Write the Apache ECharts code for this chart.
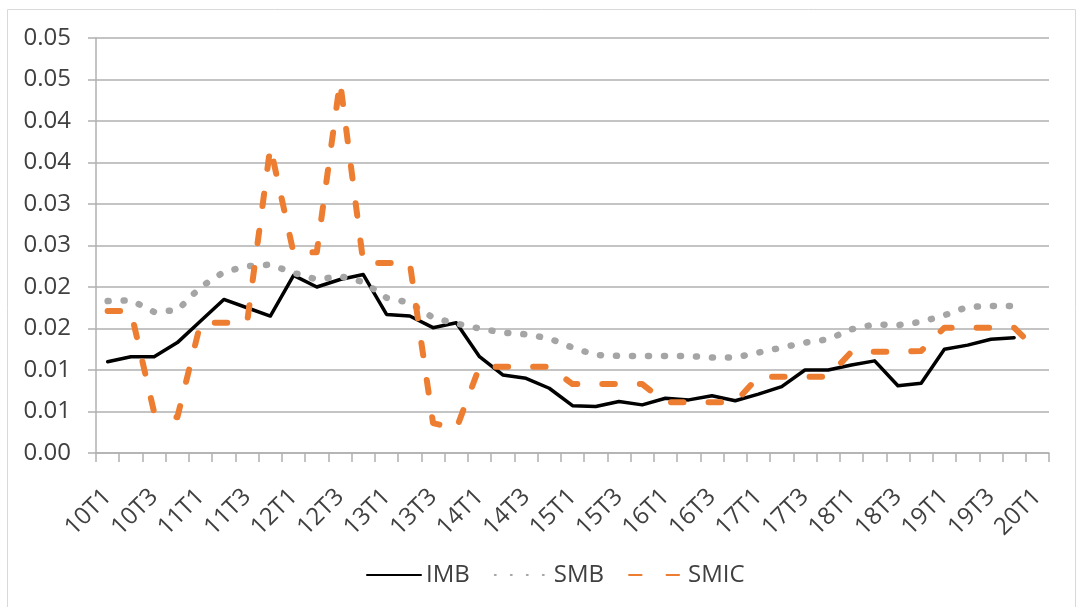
<!DOCTYPE html>
<html>
<head>
<meta charset="utf-8">
<title>IMB SMB SMIC</title>
<script src="https://cdn.jsdelivr.net/npm/echarts@6/dist/echarts.min.js"></script>
<style>
  html, body { margin: 0; padding: 0; background: #fff; }
  #chart { width: 1077px; height: 607px; }
</style>
</head>
<body>
<div id="chart"></div>
<script>
const categories = [
  '10T1', '10T2', '10T3', '10T4', '11T1', '11T2', '11T3', '11T4',
  '12T1', '12T2', '12T3', '12T4', '13T1', '13T2', '13T3', '13T4',
  '14T1', '14T2', '14T3', '14T4', '15T1', '15T2', '15T3', '15T4',
  '16T1', '16T2', '16T3', '16T4', '17T1', '17T2', '17T3', '17T4',
  '18T1', '18T2', '18T3', '18T4', '19T1', '19T2', '19T3', '19T4',
  '20T1'
]

const imb = [
  0.0110, 0.0116, 0.0116, 0.0133, 0.0159, 0.0185, 0.0175, 0.0165,
  0.0214, 0.0200, 0.0209, 0.0215, 0.0167, 0.0165, 0.0151, 0.0157,
  0.0116, 0.0094, 0.0090, 0.0078, 0.0057, 0.0056, 0.0062, 0.0058,
  0.0066, 0.0064, 0.0069, 0.0063, 0.0071, 0.0080, 0.0100, 0.0100,
  0.0106, 0.0111, 0.0081, 0.0084, 0.0125, 0.0130, 0.0137, 0.0139,
  null
]

const smb = [
  0.0183, 0.0184, 0.0170, 0.0172, 0.0200, 0.0218, 0.0225, 0.0227,
  0.0217, 0.0209, 0.0213, 0.0206, 0.0187, 0.0181, 0.0163, 0.0156,
  0.0150, 0.0145, 0.0143, 0.0138, 0.0127, 0.0118, 0.0117, 0.0117,
  0.0117, 0.0117, 0.0115, 0.0115, 0.0121, 0.0127, 0.0133, 0.0137,
  0.0149, 0.0155, 0.0154, 0.0158, 0.0166, 0.0176, 0.0177, 0.0177,
  null
]

const smic = [
  0.0171, 0.0171, 0.0049, 0.0043, 0.0157, 0.0157, 0.0157, 0.0369,
  0.0241, 0.0242, 0.0448, 0.0229, 0.0229, 0.0229, 0.0036, 0.0029,
  0.0104, 0.0104, 0.0104, 0.0104, 0.0083, 0.0083, 0.0083, 0.0083,
  0.0061, 0.0061, 0.0061, 0.0061, 0.0092, 0.0092, 0.0092, 0.0092,
  0.0122, 0.0122, 0.0122, 0.0123, 0.0151, 0.0151, 0.0151, 0.0151,
  0.0123
]

const yTickLabels = ['0.00', '0.01', '0.01', '0.02', '0.02', '0.03', '0.03', '0.04', '0.04', '0.05', '0.05']

const seriesNames = ['IMB', 'SMB', 'SMIC']

const chart = echarts.init(document.getElementById('chart'))

const font = "'Open Sans', 'Noto Sans', sans-serif"
const gray = '#b0b0b0'
const textColor = '#404040'

chart.setOption({
  animation: false,
  graphic: [{
    type: 'rect',
    shape: { x: 7.5, y: 9.5, width: 1068, height: 640 },
    style: { fill: 'none', stroke: '#d9d9d9', lineWidth: 1 },
    silent: true
  }],
  grid: { left: 96, right: 28, top: 38, bottom: 154 },
  legend: {
    left: 366,
    top: 563,
    padding: 0,
    itemWidth: 54,
    itemHeight: 14,
    itemGap: 24,
    // hide the symbol ECharts adds to line legend icons, keep the line
    itemStyle: { color: 'rgba(0,0,0,0)', borderColor: 'rgba(0,0,0,0)', borderWidth: 0 },
    textStyle: { fontFamily: font, fontSize: 24, color: textColor },
    data: seriesNames
  },
  xAxis: {
    type: 'category',
    data: categories,
    boundaryGap: true,
    axisLine: { lineStyle: { color: gray, width: 1.5 } },
    axisTick: { show: true, interval: 0, length: 9, lineStyle: { color: gray, width: 1.5 } },
    axisLabel: {
      interval: 1,
      rotate: 45,
      margin: 40,
      fontFamily: font,
      fontSize: 24,
      color: textColor
    },
    splitLine: { show: false }
  },
  yAxis: {
    type: 'value',
    min: 0,
    max: 0.05,
    interval: 0.005,
    axisLine: { show: true, lineStyle: { color: gray, width: 1.5 } },
    axisTick: { show: true, length: 8, lineStyle: { color: gray, width: 1.5 } },
    axisLabel: {
      margin: 25,
      fontFamily: font,
      fontSize: 24,
      color: textColor,
      formatter: v => yTickLabels[Math.round(v / 0.005)]
    },
    splitLine: { lineStyle: { color: gray, width: 1.5 } }
  },
  series: [
    {
      name: 'IMB',
      type: 'line',
      data: imb,
      symbol: 'none',
      color: '#000000',
      lineStyle: { color: '#000000', width: 3.5, join: 'round', cap: 'round' }
    },
    {
      name: 'SMB',
      type: 'line',
      data: smb,
      symbol: 'none',
      color: '#a5a5a5',
      lineStyle: { color: '#a5a5a5', width: 6.5, type: [1, 15], cap: 'round', join: 'round' }
    },
    {
      name: 'SMIC',
      type: 'line',
      data: smic,
      symbol: 'none',
      color: '#ed7d31',
      lineStyle: { color: '#ed7d31', width: 6, type: [12.5, 25], cap: 'round', join: 'round' }
    }
  ]
})
</script>
</body>
</html>
